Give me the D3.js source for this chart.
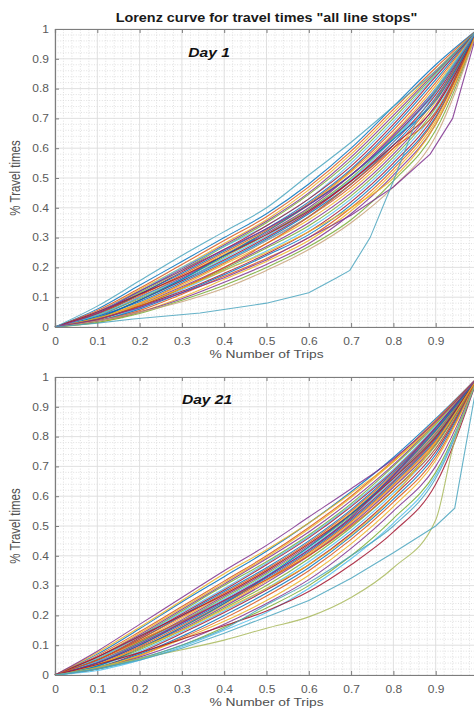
<!DOCTYPE html>
<html>
<head>
<meta charset="utf-8">
<script src="https://cdn.jsdelivr.net/npm/d3@7"></script>
<style>
  html, body { margin: 0; padding: 0; background: #fff; }
  svg { display: block; font-family: "Liberation Sans", Arial, sans-serif; }
</style>
</head>
<body>
<div id="chart"></div>
<script>
// ---- data ----
const xGrid = [0, 0.1, 0.2, 0.3, 0.4, 0.5, 0.6, 0.7, 0.8, 0.9, 1];
const tickValues = [0, 0.1, 0.2, 0.3, 0.4, 0.5, 0.6, 0.7, 0.8, 0.9, 1];

// Day 1: bundle of lines, y at each xGrid point
const day1Curves = [
  [0,.06,.14,.22,.30,.38,.48,.60,.74,.88,1],
  [0,.055,.13,.21,.29,.37,.47,.59,.73,.87,1],
  [0,.05,.125,.20,.28,.36,.46,.58,.72,.86,1],
  [0,.05,.12,.195,.275,.355,.45,.57,.71,.855,1],
  [0,.045,.115,.19,.27,.35,.445,.56,.70,.85,1],
  [0,.05,.12,.20,.27,.34,.43,.55,.69,.845,1],
  [0,.045,.11,.185,.26,.34,.43,.54,.68,.84,1],
  [0,.04,.11,.18,.255,.33,.42,.53,.67,.83,1],
  [0,.045,.105,.175,.25,.325,.415,.525,.66,.82,1],
  [0,.04,.10,.17,.245,.32,.41,.52,.65,.81,1],
  [0,.035,.10,.165,.24,.315,.40,.51,.645,.80,1],
  [0,.04,.095,.16,.235,.31,.395,.50,.635,.795,1],
  [0,.035,.09,.155,.23,.305,.39,.495,.63,.79,1],
  [0,.03,.09,.155,.225,.30,.385,.49,.62,.78,1],
  [0,.035,.085,.15,.22,.295,.38,.48,.61,.77,1],
  [0,.03,.08,.145,.215,.29,.37,.47,.60,.765,1],
  [0,.03,.08,.14,.21,.28,.36,.46,.59,.755,1],
  [0,.025,.075,.135,.20,.27,.35,.45,.58,.745,1],
  [0,.025,.07,.13,.195,.265,.34,.44,.57,.735,1],
  [0,.02,.065,.125,.19,.255,.33,.43,.56,.725,1],
  [0,.025,.07,.12,.18,.245,.32,.42,.55,.715,1],
  [0,.02,.06,.115,.175,.24,.31,.41,.54,.705,1],
  [0,.02,.055,.11,.17,.23,.30,.40,.53,.70,1],
  [0,.015,.05,.10,.16,.22,.29,.39,.52,.69,1],
  [0,.02,.05,.095,.15,.21,.28,.38,.51,.68,1],
  [0,.015,.045,.09,.14,.20,.27,.36,.49,.66,1],
  [0,.04,.10,.16,.22,.29,.37,.48,.62,.80,1],
  [0,.05,.11,.17,.24,.31,.39,.49,.61,.74,1],
  [0,.03,.09,.16,.24,.32,.41,.51,.63,.76,1],
  [0,.025,.07,.13,.20,.28,.37,.48,.60,.72,1],
  [0,.03,.075,.13,.19,.25,.32,.40,.50,.68,1],
  [0,.045,.12,.19,.26,.33,.41,.51,.64,.79,1]
];
const day1Upper = [0,.07,.155,.24,.32,.40,.51,.62,.74,.86,1];
const day1Tan   = [0,.02,.05,.085,.13,.19,.26,.35,.47,.64,1];
const day1LowX  = [0,.1,.2,.3,.4,.5,.6,.7,.8,.887,.94,1];
const day1LowY  = [0,.025,.065,.115,.165,.225,.30,.375,.47,.58,.70,1];
const day1SpikeX = [0,.1,.185,.343,.5,.6,.666,.697,.745,.8,.855,.93,1];
const day1SpikeY = [0,.013,.027,.047,.08,.115,.165,.19,.30,.49,.695,.85,1];

// Day 21
const day21Curves = [
  [0,.07,.155,.245,.33,.415,.51,.615,.73,.86,1],
  [0,.065,.145,.23,.315,.40,.495,.60,.72,.855,1],
  [0,.06,.14,.225,.31,.395,.49,.595,.715,.85,1],
  [0,.06,.135,.22,.305,.39,.48,.585,.705,.845,1],
  [0,.055,.13,.215,.30,.38,.47,.575,.70,.84,1],
  [0,.055,.13,.21,.29,.375,.465,.57,.69,.835,1],
  [0,.05,.125,.205,.285,.37,.46,.565,.685,.83,1],
  [0,.05,.12,.20,.28,.36,.45,.555,.68,.825,1],
  [0,.05,.12,.195,.275,.355,.445,.55,.675,.82,1],
  [0,.045,.115,.19,.27,.35,.44,.545,.67,.815,1],
  [0,.045,.11,.185,.265,.345,.435,.54,.665,.81,1],
  [0,.04,.11,.18,.26,.34,.43,.535,.66,.805,1],
  [0,.045,.105,.18,.255,.335,.425,.53,.655,.80,1],
  [0,.04,.10,.175,.25,.33,.42,.525,.65,.795,1],
  [0,.04,.10,.17,.245,.325,.415,.52,.645,.79,1],
  [0,.035,.095,.165,.24,.32,.41,.515,.64,.785,1],
  [0,.035,.09,.16,.235,.315,.405,.51,.635,.78,1],
  [0,.03,.09,.155,.23,.31,.40,.505,.63,.775,1],
  [0,.03,.085,.15,.225,.30,.39,.495,.62,.77,1],
  [0,.03,.08,.145,.215,.29,.38,.485,.61,.76,1],
  [0,.025,.075,.14,.21,.285,.37,.475,.60,.75,1],
  [0,.025,.07,.13,.20,.275,.36,.465,.59,.74,1],
  [0,.02,.065,.125,.19,.265,.35,.455,.58,.73,1],
  [0,.025,.065,.12,.18,.25,.335,.44,.565,.72,1],
  [0,.02,.06,.11,.17,.24,.32,.425,.55,.70,1],
  [0,.02,.055,.10,.16,.225,.30,.40,.525,.68,1],
  [0,.015,.05,.095,.15,.21,.29,.39,.51,.67,1],
  [0,.06,.13,.20,.27,.35,.44,.54,.66,.80,1],
  [0,.03,.09,.16,.24,.33,.43,.54,.67,.82,1],
  [0,.05,.115,.18,.25,.32,.40,.50,.62,.76,1],
  [0,.035,.09,.15,.22,.29,.37,.47,.60,.78,1],
  [0,.04,.105,.175,.25,.33,.42,.53,.67,.83,1]
];
const day21Upper  = [0,.08,.17,.26,.35,.435,.53,.625,.725,.85,1];
const day21Yellow = [0,.075,.16,.25,.34,.42,.51,.61,.715,.845,1];
const day21Maroon = [0,.035,.075,.12,.165,.215,.28,.37,.48,.64,1];
const day21Teal2  = [0,.02,.055,.10,.155,.235,.31,.40,.50,.66,1];
const day21OliveX = [0,.1,.2,.3,.4,.5,.6,.7,.8,.9,.94,1];
const day21OliveY = [0,.025,.055,.085,.117,.157,.195,.26,.36,.52,.76,1];
const day21TealX  = [0,.1,.2,.3,.4,.5,.6,.7,.8,.9,.945,1];
const day21TealY  = [0,.02,.05,.09,.14,.195,.25,.325,.41,.50,.56,1];

// ---- styles ----
const palette = ['#0072BD','#D95319','#EDB120','#7E2F8E','#77AC30','#4DBEEE','#A2142F'];
const teal = '#4aa5be';
const W = 474, H = 711;
const STRETCH = 1.2; // the picture is a little wider than tall

const svg = d3.select('#chart').append('svg').attr('width', W).attr('height', H);
svg.append('rect').attr('width', W).attr('height', H).attr('fill', '#fff');

const x = d3.scaleLinear().domain([0, 1]).range([55, 478]);

function panel(top, bottom, label, curves, specials) {
  const y = d3.scaleLinear().domain([0, 1]).range([bottom, top]);
  const g = svg.append('g');

  // minor grid (dotted)
  const minor = d3.range(0, 51).map(i => i / 50).filter(v => Math.round(v * 50) % 5 !== 0);
  g.append('g').selectAll('line').data(minor).join('line')
    .attr('x1', d => x(d)).attr('x2', d => x(d)).attr('y1', y(0)).attr('y2', y(1))
    .attr('stroke', '#d9d9d9').attr('stroke-width', 0.8).attr('stroke-dasharray', '1,1.6');
  g.append('g').selectAll('line').data(minor).join('line')
    .attr('y1', d => y(d)).attr('y2', d => y(d)).attr('x1', x(0)).attr('x2', x(1))
    .attr('stroke', '#d9d9d9').attr('stroke-width', 0.8).attr('stroke-dasharray', '1,1.6');
  // major grid
  g.append('g').selectAll('line').data(tickValues).join('line')
    .attr('x1', d => x(d)).attr('x2', d => x(d)).attr('y1', y(0)).attr('y2', y(1))
    .attr('stroke', '#dcdcdc').attr('stroke-width', 0.9);
  g.append('g').selectAll('line').data(tickValues).join('line')
    .attr('y1', d => y(d)).attr('y2', d => y(d)).attr('x1', x(0)).attr('x2', x(1))
    .attr('stroke', '#dcdcdc').attr('stroke-width', 0.9);

  // curves
  const smooth = d3.line().curve(d3.curveMonotoneX);
  const straight = d3.line();
  const lg = g.append('g').attr('fill', 'none').attr('stroke-width', 1.1).attr('stroke-opacity', 0.85);
  curves.forEach((ys, i) => {
    lg.append('path')
      .attr('d', smooth(ys.map((v, k) => [x(xGrid[k]), y(v)])))
      .attr('stroke', palette[i % palette.length]);
  });
  specials.forEach(s => {
    const gen = s.kinked ? straight : smooth;
    lg.append('path')
      .attr('d', gen(s.ys.map((v, k) => [x(s.xs[k]), y(v)])))
      .attr('stroke', s.color);
  });

  // axes
  const fmt = d3.format('~g');
  const ax = g.append('g').attr('transform', `translate(0,${bottom})`)
    .call(d3.axisBottom(x).tickValues(tickValues)
      .tickFormat(d => d === 1 ? '' : fmt(d)) // "1" falls past the picture's right edge
      .tickSize(-4).tickPadding(10.5));
  const ay = g.append('g').attr('transform', `translate(${x(0)},0)`)
    .call(d3.axisLeft(y).tickValues(tickValues).tickFormat(fmt).tickSize(-4).tickPadding(6));
  // top border with inward ticks
  const at = g.append('g').attr('transform', `translate(0,${top})`)
    .call(d3.axisTop(x).tickValues(tickValues).tickFormat('').tickSize(-4));
  [ax, ay, at].forEach(a => {
    a.select('.domain').attr('stroke', '#7d7d7d').attr('stroke-width', 1.2);
    a.selectAll('.tick line').attr('stroke', '#7d7d7d');
  });
  ax.selectAll('text').attr('font-size', 10).attr('fill', '#5a5a5a')
    .attr('transform', `scale(${STRETCH},1)`);
  ay.selectAll('text').attr('font-size', 10).attr('fill', '#5a5a5a')
    .attr('transform', `translate(-6,0) scale(${STRETCH},1) translate(6,0)`);

  // axis labels
  g.append('text').attr('transform', `translate(${x(0.5)},${bottom + 31}) scale(${STRETCH},1)`)
    .attr('text-anchor', 'middle').attr('font-size', 11.5).attr('fill', '#505050')
    .text('% Number of Trips');
  g.append('text').attr('transform', `translate(20,${(top + bottom) / 2}) scale(${STRETCH},1) rotate(-90)`)
    .attr('text-anchor', 'middle').attr('font-size', 11.5).attr('fill', '#505050')
    .text('% Travel times');

  // day label
  g.append('text').attr('transform', `translate(${x(label.x)},${y(label.y)}) scale(${STRETCH},1)`)
    .attr('font-size', 13).attr('font-weight', 'bold').attr('font-style', 'italic').attr('fill', '#111')
    .text(label.text);
}

// title
svg.append('text').attr('transform', `translate(${x(0.5)},22) scale(${STRETCH},1)`)
  .attr('text-anchor', 'middle').attr('font-size', 12).attr('font-weight', 'bold').attr('fill', '#1a1a1a')
  .text('Lorenz curve for travel times "all line stops"');

panel(29, 327, { text: 'Day 1', x: 0.315, y: 0.905 }, day1Curves, [
  { xs: xGrid, ys: day1Tan, color: '#c9a27a' },
  { xs: day1LowX, ys: day1LowY, color: palette[3], kinked: true },
  { xs: xGrid, ys: day1Upper, color: teal },
  { xs: day1SpikeX, ys: day1SpikeY, color: teal, kinked: true }
]);

panel(377, 675, { text: 'Day 21', x: 0.30, y: 0.91 }, day21Curves, [
  { xs: xGrid, ys: day21Yellow, color: palette[2] },
  { xs: xGrid, ys: day21Upper, color: palette[3] },
  { xs: xGrid, ys: day21Maroon, color: palette[6] },
  { xs: xGrid, ys: day21Teal2, color: teal },
  { xs: day21OliveX, ys: day21OliveY, color: '#a8b85a' },
  { xs: day21TealX, ys: day21TealY, color: teal, kinked: true }
]);
</script>
</body>
</html>
